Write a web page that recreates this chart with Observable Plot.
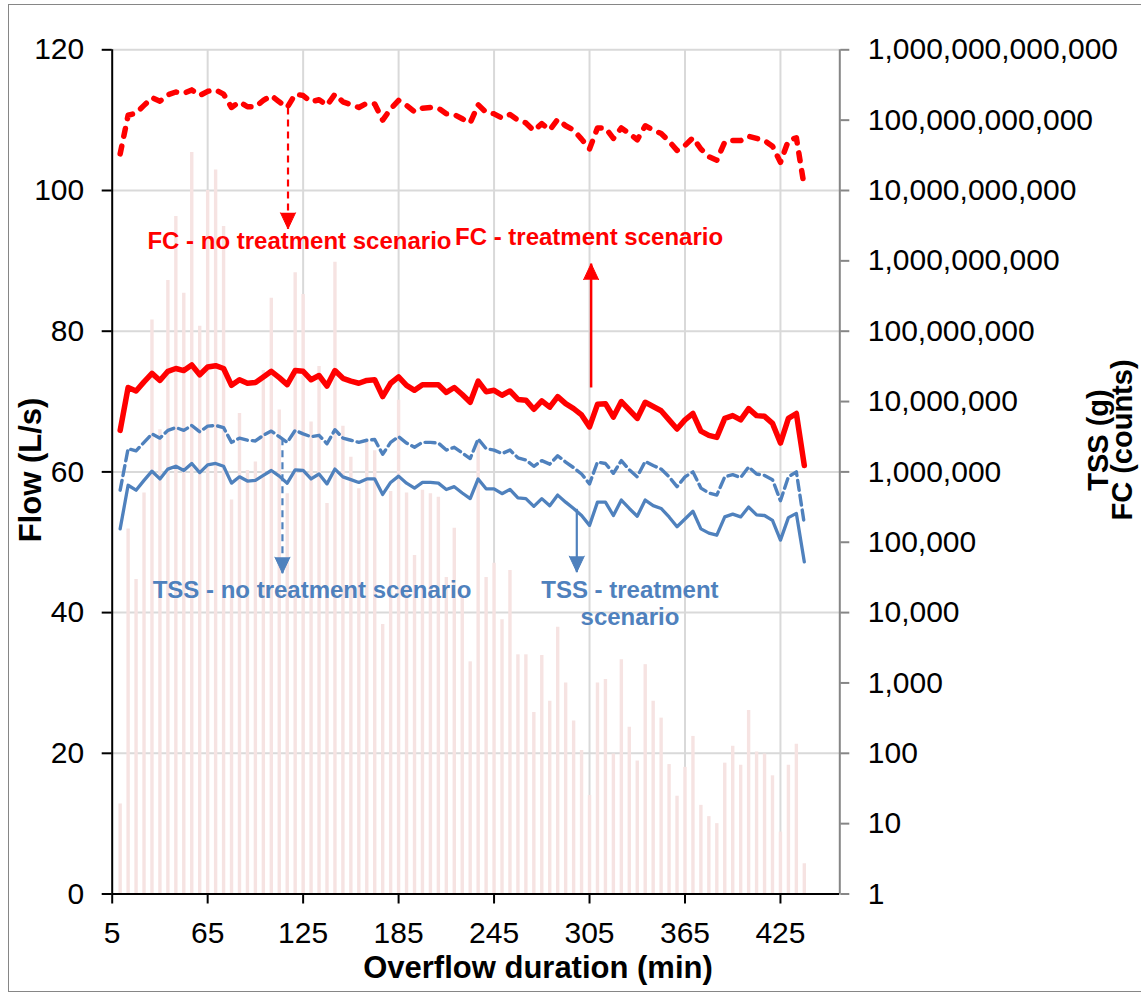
<!DOCTYPE html>
<html><head><meta charset="utf-8">
<script src="https://cdn.jsdelivr.net/npm/d3@7"></script>
<script src="https://cdn.jsdelivr.net/npm/@observablehq/plot@0.6"></script>
<style>
html,body{margin:0;padding:0;background:#fff;}
#chart{width:1141px;height:997px;}
</style></head><body><div id="chart"></div>
<script>
// Overflow duration (min), one sample every 5 min
const minutes = [10,15,20,25,30,35,40,45,50,55,60,65,70,75,80,85,90,95,100,105,110,115,120,125,130,135,140,145,150,155,160,165,170,175,180,185,190,195,200,205,210,215,220,225,230,235,240,245,250,255,260,265,270,275,280,285,290,295,300,305,310,315,320,325,330,335,340,345,350,355,360,365,370,375,380,385,390,395,400,405,410,415,420,425,430,435,440];
// Flow (L/s) – bars, left axis
const flow = [12.8,51.9,44.7,57,81.6,66,87.2,96.3,85.4,105.4,80.7,100,102.9,94.9,56,68.3,60.2,61.4,74.4,84.7,68.8,56.9,88.3,85.2,67.1,75,55.5,89.8,66.5,62.1,57.6,64.5,63,38.3,57.2,70.2,57,48.1,57.4,56.9,56.4,45,52,42.5,33,64.5,45,47,39,46,34,34,25.8,33.9,27.4,37.9,30,24.6,20.4,14,30,30.5,19.9,33.3,23.7,18.9,32.6,27.4,25,18.4,13.9,18,22.4,12.6,11,10,18.6,21,18.3,26.1,20.2,19.9,16.8,8.8,18.3,21.3,4.3];
// log10 of FC (counts) – no treatment scenario
const fcNoTreatLog = [10.52,11.07,11.10,11.21,11.32,11.27,11.36,11.40,11.38,11.43,11.35,11.41,11.43,11.37,11.18,11.26,11.19,11.19,11.28,11.35,11.26,11.18,11.37,11.35,11.26,11.29,11.21,11.37,11.26,11.22,11.18,11.24,11.23,11.00,11.16,11.28,11.21,11.12,11.17,11.18,11.17,11.09,11.08,11.02,10.96,11.22,11.11,11.09,11.03,11.08,11.00,10.96,10.85,10.95,10.86,11.01,10.92,10.86,10.73,10.59,10.89,10.89,10.74,10.89,10.81,10.72,10.92,10.86,10.81,10.70,10.57,10.64,10.75,10.59,10.48,10.43,10.69,10.71,10.71,10.77,10.74,10.71,10.63,10.40,10.71,10.75,10.05];
// log10 of FC (counts) – treatment scenario
const fcTreatLog = [6.59,7.20,7.15,7.28,7.40,7.30,7.43,7.47,7.44,7.52,7.38,7.49,7.51,7.47,7.23,7.31,7.26,7.27,7.35,7.43,7.34,7.24,7.44,7.43,7.31,7.37,7.22,7.44,7.33,7.29,7.26,7.30,7.31,7.07,7.26,7.35,7.23,7.16,7.24,7.24,7.24,7.13,7.20,7.10,6.99,7.29,7.14,7.16,7.09,7.15,7.03,7.02,6.89,7.01,6.92,7.07,6.97,6.90,6.81,6.64,6.96,6.97,6.78,7.00,6.88,6.76,6.99,6.93,6.87,6.74,6.61,6.74,6.83,6.58,6.52,6.49,6.76,6.80,6.74,6.90,6.80,6.79,6.69,6.41,6.76,6.83,6.09];
// log10 of TSS (g) – no treatment scenario
const tssNoTreatLog = [5.74,6.33,6.30,6.42,6.54,6.48,6.59,6.63,6.59,6.66,6.57,6.65,6.66,6.63,6.42,6.48,6.45,6.44,6.52,6.58,6.50,6.42,6.59,6.54,6.50,6.52,6.40,6.60,6.48,6.45,6.42,6.45,6.46,6.25,6.42,6.50,6.41,6.35,6.42,6.42,6.41,6.31,6.35,6.27,6.19,6.47,6.33,6.31,6.26,6.31,6.20,6.17,6.08,6.16,6.11,6.23,6.14,6.06,5.97,5.83,6.14,6.12,5.98,6.16,6.03,5.93,6.15,6.09,6.04,5.93,5.79,5.93,6.00,5.77,5.70,5.67,5.93,5.96,5.92,6.07,5.97,5.95,5.89,5.59,5.93,6.00,5.26];
// log10 of TSS (g) – treatment scenario
const tssTreatLog = [5.19,5.81,5.74,5.88,6.01,5.90,6.04,6.08,6.02,6.12,5.99,6.10,6.12,6.08,5.84,5.93,5.87,5.88,5.95,6.02,5.94,5.84,6.03,6.02,5.90,5.97,5.83,6.04,5.93,5.89,5.85,5.90,5.90,5.68,5.85,5.94,5.84,5.77,5.85,5.85,5.84,5.75,5.79,5.70,5.62,5.90,5.76,5.76,5.69,5.75,5.63,5.62,5.51,5.62,5.52,5.67,5.57,5.48,5.38,5.24,5.57,5.57,5.38,5.60,5.48,5.37,5.60,5.52,5.48,5.36,5.22,5.33,5.44,5.19,5.13,5.10,5.36,5.40,5.36,5.50,5.39,5.38,5.31,5.03,5.35,5.41,4.72];

// tick labels
const xTicks = [5,65,125,185,245,305,365,425];
const flowTicks = [0,20,40,60,80,100,120];
const rightTickLabels = ["1","10","100","1,000","10,000","100,000","1,000,000","10,000,000","100,000,000","1,000,000,000","10,000,000,000","100,000,000,000","1,000,000,000,000"];

// annotations (minutes, flow-axis units)
const arrowsRed = [
  {t: 115.5, from: 111.8, to: 94.55, dashed: true},
  {t: 306, from: 72.0, to: 89.6, dashed: false}
];
const arrowsBlue = [
  {t: 112, from: 64.8, to: 45.6, dashed: true},
  {t: 297, from: 54.75, to: 45.75, dashed: false}
];
const labelsRed = [
  {t: 122.7, y: 92.8, text: "FC - no treatment scenario"},
  {t: 304.7, y: 93.4, text: "FC - treatment scenario"}
];
const labelsBlue = [
  {t: 130.6, y: 43.14, text: "TSS - no treatment scenario"},
  {t: 330.4, y: 43.2, text: "TSS - treatment"},
  {t: 330.4, y: 39.26, text: "scenario"}
];

const RED = "#FF0000", BLUE = "#4F81BD", PINK = "#F6E3E2", GRID = "#D9D9D9";
const rows = minutes.map((t, i) => ({t, flow: flow[i], fcNo: fcNoTreatLog[i], fc: fcTreatLog[i], tssNo: tssNoTreatLog[i], tss: tssTreatLog[i]}));
// 12 decades of the right (log) axis share the 0–120 span of the left axis
const dec = e => e * 10;
const rightTicks = rightTickLabels.map((_, i) => i * 10);

const chart = Plot.plot({
  width: 1141, height: 997,
  marginLeft: 111.7, marginRight: 301.7, marginTop: 49.3, marginBottom: 103.5,
  x: {domain: [5, 462.3]},
  y: {domain: [0, 120]},
  style: {fontFamily: "'Liberation Sans', Arial, sans-serif", fontSize: "30px", color: "#000", background: "#fff", overflow: "visible"},
  marks: [
    Plot.gridY(flowTicks.slice(1), {stroke: GRID, strokeOpacity: 1, strokeWidth: 2}),
    Plot.gridX(xTicks.slice(1), {stroke: GRID, strokeOpacity: 1, strokeWidth: 2}),
    Plot.ruleX(rows, {x: "t", y1: 0, y2: "flow", stroke: PINK, strokeWidth: 3.4}),
    Plot.line(rows, {x: "t", y: d => dec(d.tss), stroke: BLUE, strokeWidth: 3.3, strokeLinejoin: "round"}),
    Plot.line(rows, {x: "t", y: d => dec(d.tssNo), stroke: BLUE, strokeWidth: 3.4, strokeLinejoin: "round", strokeDasharray: "10,5"}),
    Plot.line(rows, {x: "t", y: d => dec(d.fc), stroke: RED, strokeWidth: 5.5, strokeLinejoin: "round"}),
    Plot.line(rows, {x: "t", y: d => dec(d.fcNo), stroke: RED, strokeWidth: 5.5, strokeLinejoin: "round", strokeLinecap: "round", strokeDasharray: "8,10"}),
    // axes
    Plot.axisX(xTicks, {tickSize: 10, tickPadding: 18, fontSize: 30, label: null, strokeWidth: 2}),
    Plot.axisY(flowTicks, {anchor: "left", tickSize: 10, tickPadding: 18, fontSize: 30, label: null, strokeWidth: 2}),
    Plot.axisY(rightTicks, {anchor: "right", tickSize: 9, tickPadding: 19, fontSize: 30, label: null, stroke: "#868686", fill: "#000", strokeWidth: 2, tickFormat: (d, i) => rightTickLabels[i]}),
    Plot.ruleX([462.3], {stroke: "#868686", strokeWidth: 2}),
    Plot.ruleX([5], {stroke: "#000", strokeWidth: 2}),
    Plot.ruleY([0], {stroke: "#000", strokeWidth: 2}),
    // annotation arrows
    Plot.link(arrowsRed.filter(d => d.dashed), {x1: "t", x2: "t", y1: "from", y2: "to", stroke: RED, strokeWidth: 2.2, strokeDasharray: "7,5"}),
    Plot.link(arrowsRed.filter(d => !d.dashed), {x1: "t", x2: "t", y1: "from", y2: "to", stroke: RED, strokeWidth: 2.5}),
    Plot.link(arrowsBlue.filter(d => d.dashed), {x1: "t", x2: "t", y1: "from", y2: "to", stroke: BLUE, strokeWidth: 2.2, strokeDasharray: "7,5"}),
    Plot.link(arrowsBlue.filter(d => !d.dashed), {x1: "t", x2: "t", y1: "from", y2: "to", stroke: BLUE, strokeWidth: 2.2}),
    Plot.vector(arrowsRed, {x: "t", y: "to", length: 16, r: 7.5, shape: "spike", anchor: "end", rotate: d => d.to < d.from ? 180 : 0, fill: RED, stroke: RED, strokeWidth: 1}),
    Plot.vector(arrowsBlue, {x: "t", y: "to", length: 16, r: 7.5, shape: "spike", anchor: "end", rotate: d => d.to < d.from ? 180 : 0, fill: BLUE, stroke: BLUE, strokeWidth: 1}),
    Plot.text(labelsRed, {x: "t", y: "y", text: "text", fill: RED, fontSize: 24, fontWeight: "bold", textAnchor: "middle", lineAnchor: "middle"}),
    Plot.text(labelsBlue, {x: "t", y: "y", text: "text", fill: BLUE, fontSize: 24, fontWeight: "bold", textAnchor: "middle", lineAnchor: "middle"})
  ]
});

document.getElementById("chart").appendChild(chart);

// axis titles and outer frame
const svg = d3.select(chart);
const titleFont = "'Liberation Sans', Arial, sans-serif";
svg.append("text").attr("transform", "translate(41,470) rotate(-90)")
  .attr("text-anchor", "middle").attr("font-family", titleFont).attr("font-size", 31).attr("font-weight", "bold").text("Flow (L/s)");
svg.append("text").attr("transform", "translate(1108,440) rotate(-90)")
  .attr("text-anchor", "middle").attr("font-family", titleFont).attr("font-size", 29).attr("font-weight", "bold").text("TSS (g)");
svg.append("text").attr("transform", "translate(1132,440) rotate(-90)")
  .attr("text-anchor", "middle").attr("font-family", titleFont).attr("font-size", 29).attr("font-weight", "bold").text("FC (counts)");
svg.append("text").attr("x", 538).attr("y", 978)
  .attr("text-anchor", "middle").attr("font-family", titleFont).attr("font-size", 31).attr("font-weight", "bold").text("Overflow duration (min)");
svg.append("rect").attr("x", 8.5).attr("y", 4.5).attr("width", 1140).attr("height", 987)
  .attr("fill", "none").attr("stroke", "#868686").attr("stroke-width", 1);
</script>
</body></html>
